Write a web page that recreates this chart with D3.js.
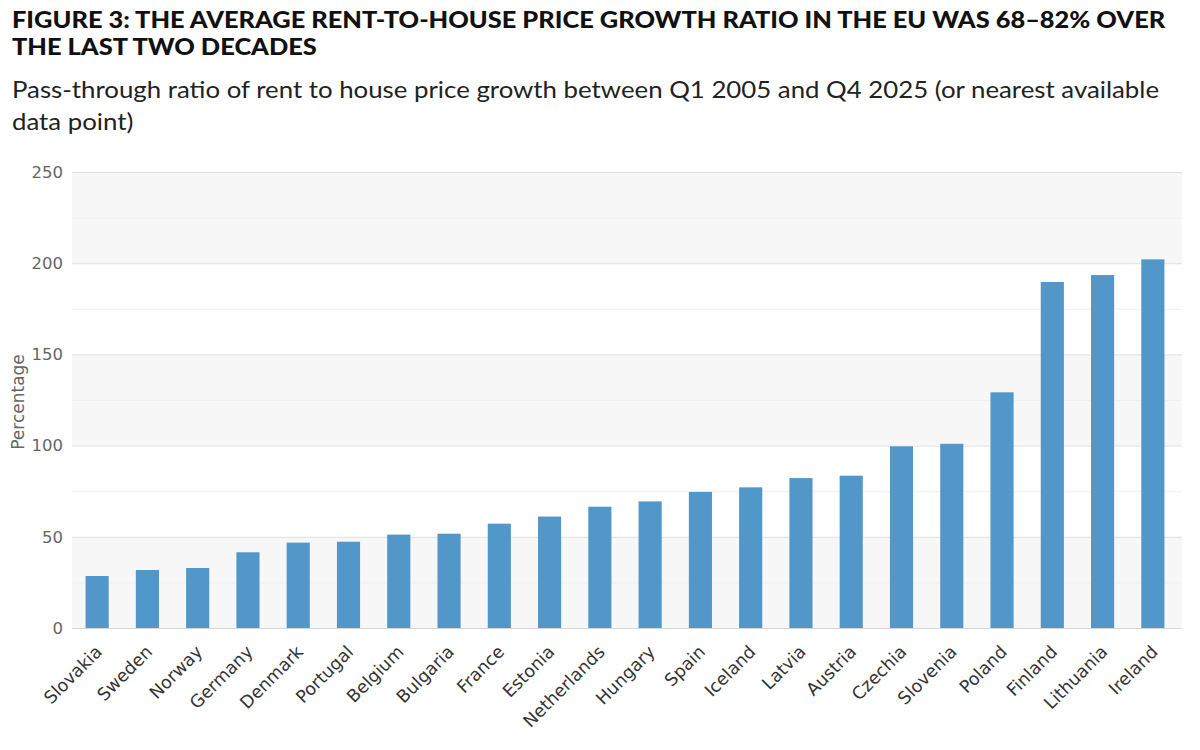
<!DOCTYPE html>
<html>
<head>
<meta charset="utf-8">
<script src="https://cdn.jsdelivr.net/npm/d3@7"></script>
<style>
  body { margin: 0; background: #fff; }
  svg { display: block; }
</style>
</head>
<body>
<div id="chart"></div>
<script>
var countries = ["Slovakia", "Sweden", "Norway", "Germany", "Denmark", "Portugal", "Belgium", "Bulgaria", "France", "Estonia", "Netherlands", "Hungary", "Spain", "Iceland", "Latvia", "Austria", "Czechia", "Slovenia", "Poland", "Finland", "Lithuania", "Ireland"];
var ratios = [28.5, 31.8, 32.9, 41.5, 46.8, 47.3, 51.2, 51.7, 57.2, 61.1, 66.5, 69.4, 74.6, 77.1, 82.2, 83.5, 99.6, 101, 129.2, 189.7, 193.5, 202.1];
var yTicks = [0, 50, 100, 150, 200, 250];
var minorTicks = [25, 75, 125, 175, 225];

var titleLines = ["FIGURE 3: THE AVERAGE RENT-TO-HOUSE PRICE GROWTH RATIO IN THE EU WAS 68\u201382% OVER", "THE LAST TWO DECADES"];
var subtitleLines = ["Pass-through ratio of rent to house price growth between Q1 2005 and Q4 2025 (or nearest available", "data point)"];

var width = 1200, height = 750;
var plot = { left: 72, right: 1182, top: 172, bottom: 628 };
var fontFamily = "Lato, 'Open Sans', sans-serif";
var axisFont = "'DejaVu Sans', 'Open Sans', sans-serif";
var barColor = "#5197c9";

var svg = d3.select("#chart").append("svg")
  .attr("width", width)
  .attr("height", height);

// fit a block of text lines so the first line spans targetWidth
function textBlock(lines, y0, lineGap, size, weight, color, targetWidth) {
  var g = svg.append("g");
  g.selectAll("text")
    .data(lines)
    .enter()
    .append("text")
    .attr("x", 0)
    .attr("y", function (d, i) { return i * lineGap; })
    .attr("font-family", fontFamily)
    .attr("font-weight", weight)
    .attr("font-size", size)
    .attr("fill", color)
    .text(function (d) { return d; });
  var natural = g.select("text").node().getComputedTextLength();
  var sx = targetWidth / natural;
  g.attr("transform", "translate(12," + y0 + ") scale(" + sx + ",1)");
  return g;
}

textBlock(titleLines, 28, 27, 22, 900, "#111", 1154);
textBlock(subtitleLines, 98, 32, 24, 400, "#222", 1148);

var x = d3.scaleBand()
  .domain(countries)
  .range([plot.left, 1178])
  .paddingInner(0.54)
  .paddingOuter(0.27);

var y = d3.scaleLinear()
  .domain([0, 250])
  .range([plot.bottom, plot.top]);

// alternating bands
var bands = [0, 100, 200];
svg.append("g").selectAll("rect")
  .data(bands)
  .enter()
  .append("rect")
  .attr("x", plot.left)
  .attr("width", plot.right - plot.left)
  .attr("y", function (d) { return y(d + 50); })
  .attr("height", function (d) { return y(d) - y(d + 50); })
  .attr("fill", "#f7f7f7");

// minor grid
svg.append("g").selectAll("line")
  .data(minorTicks)
  .enter()
  .append("line")
  .attr("x1", plot.left)
  .attr("x2", plot.right)
  .attr("y1", function (d) { return y(d) + 0.5; })
  .attr("y2", function (d) { return y(d) + 0.5; })
  .attr("stroke", "#f0f0f0");

// y axis with major grid
var yAxis = svg.append("g")
  .attr("transform", "translate(" + plot.left + ",0)")
  .call(d3.axisLeft(y).tickValues(yTicks).tickSize(-(plot.right - plot.left)).tickPadding(9));
yAxis.select(".domain").remove();
yAxis.selectAll(".tick line").attr("stroke", "#e0e0e0");
yAxis.selectAll(".tick text")
  .attr("font-family", axisFont)
  .attr("font-size", 16.5)
  .attr("fill", "#666");

svg.append("text")
  .attr("transform", "translate(24," + 402 + ") rotate(-90)")
  .attr("text-anchor", "middle")
  .attr("font-family", axisFont)
  .attr("font-size", 17)
  .attr("fill", "#666")
  .text("Percentage");

// bars
svg.append("g").selectAll("rect")
  .data(countries)
  .enter()
  .append("rect")
  .attr("x", function (d) { return x(d); })
  .attr("width", x.bandwidth())
  .attr("y", function (d, i) { return y(ratios[i]); })
  .attr("height", function (d, i) { return y(0) - y(ratios[i]); })
  .attr("fill", barColor);

// x axis
var xAxis = svg.append("g")
  .attr("transform", "translate(0," + plot.bottom + ")")
  .call(d3.axisBottom(x).tickSize(0).tickPadding(0));
xAxis.select(".domain").attr("stroke", "#d8d8d8");
xAxis.selectAll(".tick text")
  .attr("font-family", axisFont)
  .attr("font-size", 17.5)
  .attr("fill", "#333")
  .attr("text-anchor", "end")
  .attr("dy", null)
  .attr("y", 0)
  .attr("transform", "translate(6,25) rotate(-45)");
</script>
</body>
</html>
